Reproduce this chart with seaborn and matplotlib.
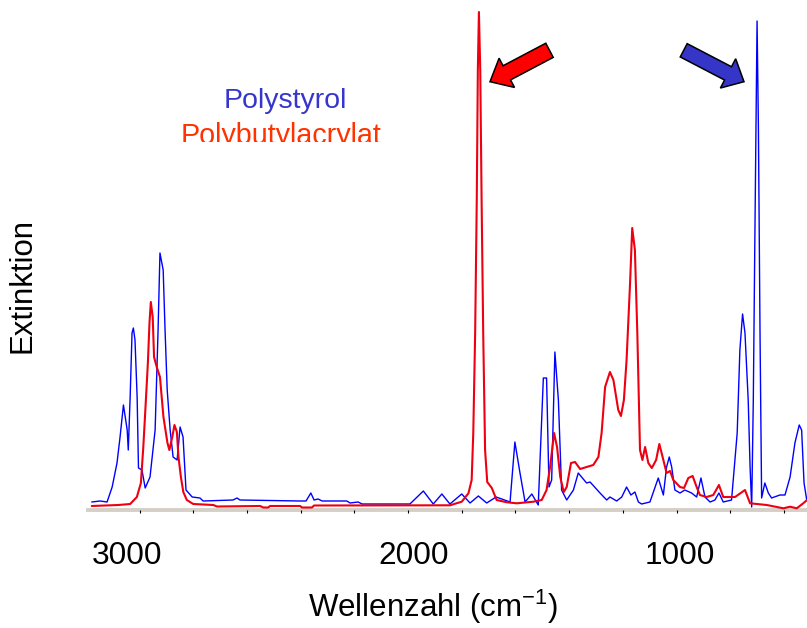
import numpy as np
import pandas as pd
import matplotlib
matplotlib.use("Agg")
import matplotlib.pyplot as plt
import matplotlib.patches as mpatches
from matplotlib.transforms import IdentityTransform, Bbox, ScaledTranslation
import seaborn as sns

# ---------------- data ----------------
ps_wn = [3178, 3147, 3121, 3102, 3084, 3073, 3060, 3046, 3042, 3035, 3028, 3023, 3017, 3009,
         3004, 2991, 2979, 2961, 2942, 2931, 2924, 2912, 2905, 2897, 2886, 2875, 2860, 2849,
         2838, 2827, 2804, 2775, 2763, 2652, 2637, 2626, 2402, 2380, 2362, 2350, 2335, 2320,
         2228, 2216, 2186, 2171, 1993, 1943, 1906, 1874, 1844, 1800, 1769, 1738, 1707, 1672,
         1620, 1602, 1583, 1564, 1539, 1515, 1496, 1484, 1475, 1465, 1453, 1440, 1428, 1409,
         1384, 1366, 1335, 1322, 1285, 1260, 1248, 1223, 1204, 1186, 1170, 1155, 1142, 1130,
         1099, 1068, 1049, 1037, 1027, 1018, 1006, 987, 969, 944, 925, 909, 894, 875, 857,
         842, 826, 795, 774, 764, 754, 745, 733, 726, 720, 714, 708, 704, 700, 695, 689,
         683, 671, 658, 646, 615, 596, 577, 559, 543, 534, 525, 515]
ps_ext = [8, 9, 8, 23, 47, 72, 105, 80, 60, 113, 177, 182, 170, 113,
          42, 40, 22, 33, 80, 180, 257, 240, 180, 120, 80, 53, 50, 83,
          73, 20, 13, 12, 9, 10, 12, 10, 9, 9, 17, 10, 11, 9,
          9, 7, 8, 6, 6, 19, 6, 16, 6, 16, 7, 14, 7, 13,
          8, 68, 37, 8, 16, 5, 132, 132, 23, 30, 158, 110, 20, 10,
          20, 37, 27, 28, 17, 10, 13, 9, 13, 23, 15, 18, 8, 6,
          8, 32, 15, 43, 53, 43, 20, 17, 20, 17, 13, 32, 13, 8, 10,
          17, 8, 10, 77, 160, 196, 177, 110, 43, 3, 110, 277, 383, 489, 383, 177,
          12, 27, 17, 12, 15, 15, 33, 67, 85, 80, 27, 10]

pba_wn = [3178, 3079, 3035, 3010, 2995, 2986, 2977, 2969, 2963, 2958, 2951, 2946, 2936, 2924,
          2911, 2896, 2889, 2878, 2870, 2861, 2855, 2846, 2837, 2824, 2800, 2725, 2712, 2551,
          2539, 2521, 2514, 2402, 2395, 2358, 2350, 1844, 1800, 1775, 1763, 1757, 1750, 1744,
          1740, 1736, 1731, 1726, 1720, 1713, 1705, 1688, 1670, 1632, 1595, 1533, 1502, 1484,
          1471, 1456, 1445, 1433, 1420, 1409, 1393, 1378, 1359, 1335, 1310, 1291, 1279, 1266,
          1248, 1235, 1217, 1207, 1196, 1186, 1173, 1165, 1155, 1146, 1136, 1127, 1117, 1105,
          1092, 1076, 1064, 1049, 1037, 1024, 1012, 987, 972, 956, 940, 925, 913, 888, 863,
          842, 826, 782, 745, 726, 664, 602, 577, 552, 528, 514]
pba_ext = [4, 5, 6, 13, 27, 63, 107, 147, 187, 208, 193, 153, 143, 133,
           93, 67, 60, 73, 85, 78, 53, 33, 18, 10, 6, 5, 3.5, 4,
           2.5, 2.5, 4, 4, 2.5, 2.5, 4.5, 4.7, 8.3, 16.7, 30, 77, 177, 310,
           440, 498, 440, 310, 177, 60, 28, 22, 10, 7.7, 6.7, 8.3, 10, 20,
           43, 77, 63, 33, 18, 23, 47, 48, 41, 43, 45, 53, 77, 123,
           138, 130, 100, 94, 110, 150, 227, 282, 260, 177, 60, 50, 63, 47,
           42, 50, 66, 50, 37, 39, 30, 23, 22, 32, 34, 23, 15, 13, 15,
           25, 13, 13, 20, 6.7, 5, 1.7, 3.3, 1.7, 6.7, 10]

series_names = ["Polystyrol", "Polybutylacrylat"]
major_ticks = [3000, 2000, 1000]
tick_labels = ["3000", "2000", "1000"]
minor_ticks = list(range(600, 3001, 200))

# ---------------- style ----------------
sns.set_style("white")
plt.rcParams["font.family"] = ["Liberation Sans", "DejaVu Sans"]
plt.rcParams["text.color"] = "black"
plt.rcParams["xtick.color"] = "black"
plt.rcParams["xtick.labelcolor"] = "black"
plt.rcParams["mathtext.fontset"] = "custom"
plt.rcParams["mathtext.rm"] = "Liberation Sans"
plt.rcParams["mathtext.it"] = "Liberation Sans:italic"
plt.rcParams["mathtext.bf"] = "Liberation Sans:bold"

W, H = 807, 628
fig = plt.figure(figsize=(W / 100, H / 100), dpi=100)
ax = fig.add_axes([88 / W, (H - 510) / H, (W - 88) / W, 510 / H])

df_ps = pd.DataFrame({"wn": ps_wn, "ext": ps_ext})
df_pba = pd.DataFrame({"wn": pba_wn, "ext": pba_ext})

sns.lineplot(data=df_ps, x="wn", y="ext", ax=ax, color="#0000ff", lw=1.0,
             estimator=None, sort=False)
sns.lineplot(data=df_pba, x="wn", y="ext", ax=ax, color="#ee0010", lw=1.5,
             estimator=None, sort=False)

ax.set_xlim(3192, 514)
ax.set_ylim(0, 510)
ax.set_xlabel("")
ax.set_ylabel("")

for s in ["top", "right", "left"]:
    ax.spines[s].set_visible(False)
ax.spines["bottom"].set_color("#d4d0c8")
ax.spines["bottom"].set_linewidth(2.8)
ax.spines["bottom"].set_zorder(0)

ax.set_xticks(major_ticks)
ax.set_xticklabels(tick_labels, fontsize=22.7, color="black")
ax.set_xticks(minor_ticks, minor=True)
ax.tick_params(axis="x", which="both", direction="out", length=2.5, width=0.8,
               color="black", bottom=True)
ax.tick_params(axis="x", which="major", pad=20)
ax.set_yticks([])

# label offsets as in the reference
offsets = [-13, 6, 3]
for lab, dx in zip(ax.get_xticklabels(), offsets):
    lab.set_transform(lab.get_transform() + ScaledTranslation(dx / 100, 0, fig.dpi_scale_trans))

# axis titles
fig.text(433.5 / W, 1 - 617 / H, "Wellenzahl (cm$^{\\mathregular{-1}}$)", fontsize=22.5,
         ha="center", va="baseline", color="black")
fig.text(22.5 / W, 1 - 285.5 / H, "Extinktion", fontsize=22.4, rotation=90,
         ha="center", va="center", color="black")

# legend-like labels
fig.text(285 / W, 1 - 108.3 / H, series_names[0], fontsize=20.5, color="#3636cc",
         ha="center", va="baseline")
t2 = fig.text(281 / W, 1 - 143.5 / H, series_names[1], fontsize=20.7, color="#ff3300",
              ha="center", va="baseline")
t2.set_clip_box(Bbox.from_extents(0, H - 142, W, H))
t2.set_clip_on(True)

# arrows (pixel coordinates)
red_arrow = mpatches.FancyArrow(549.5, H - 50.3, -59.5, -31.4, width=16, head_width=33,
                                head_length=19, length_includes_head=True,
                                transform=IdentityTransform(), fc="#ff0000", ec="black", lw=1.1)
blue_arrow = mpatches.FancyArrow(683.7, H - 50.3, 60.3, -31.4, width=15, head_width=33,
                                 head_length=18, length_includes_head=True,
                                 transform=IdentityTransform(), fc="#3535c8", ec="black", lw=1.1)
fig.add_artist(red_arrow)
fig.add_artist(blue_arrow)

fig.savefig("out.png", dpi=100)
